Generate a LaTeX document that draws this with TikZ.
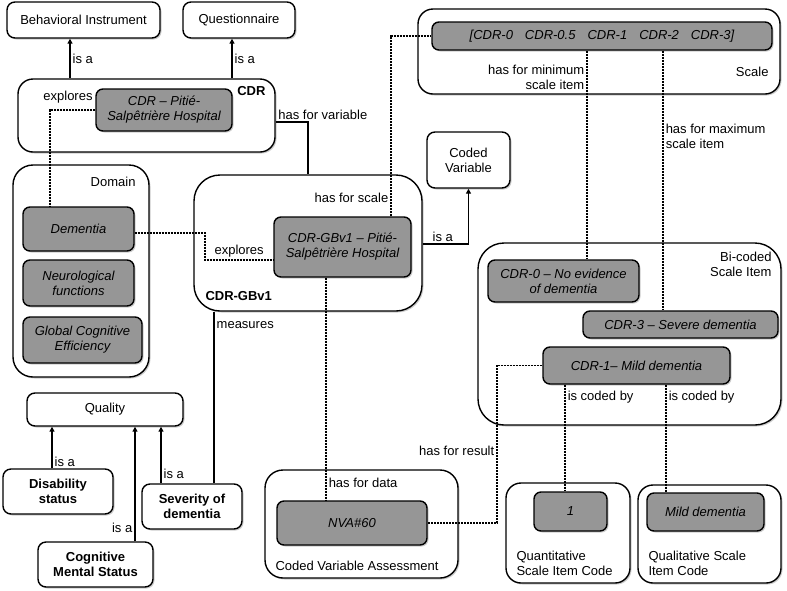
\documentclass[tikz,border=0pt]{standalone}
\usepackage{fontspec}
\setmainfont{Liberation Sans}
\usetikzlibrary{arrows.meta,shadows}
\definecolor{itemgray}{RGB}{150,150,150}
\newcommand\labelsize{\fontsize{13}{15}\selectfont}

\begin{document}
\begin{tikzpicture}[
    x=1pt, y=-1pt,
    font=\labelsize,
    boxshadow/.style={drop shadow={shadow xshift=1.5pt, shadow yshift=-1.5pt, opacity=0.4}},
    classbox/.style={rectangle, draw, line width=1.4pt, rounded corners=8pt, fill=white, align=center, inner sep=0pt, boxshadow},
    container/.style={classbox, rounded corners=18pt},
    instance/.style={classbox, rounded corners=7pt, fill=itemgray, font=\labelsize\itshape},
    tag/.style={inner sep=2pt, align=left},
    isa/.style={-{Triangle[length=5pt, width=5pt]}, line width=1.4pt},
    rel/.style={line width=1.4pt},
    dotref/.style={line width=1.5pt, dash pattern=on 2pt off 1pt}
]
\useasboundingbox (0,0) rectangle (787,590);

% Generic classes
\node[classbox, minimum width=153pt, minimum height=36pt] (behav) at (83.5,20) {Behavioral Instrument};
\node[classbox, minimum width=112pt, minimum height=36pt] (quest) at (239,20) {Questionnaire};
\node[classbox, minimum width=83pt, minimum height=56pt] (codedvar) at (468.5,160) {Coded\\Variable};
\node[classbox, minimum width=156pt, minimum height=33pt] (quality) at (105,409.5) {Quality};
\node[classbox, minimum width=110pt, minimum height=45pt, font=\labelsize\bfseries] (disab) at (58,491.5) {Disability\\status};
\node[classbox, minimum width=100pt, minimum height=45pt, font=\labelsize\bfseries] (severity) at (192,506.5) {Severity of\\dementia};
\node[classbox, minimum width=115pt, minimum height=45pt, font=\labelsize\bfseries] (cogn) at (95.5,564.5) {Cognitive\\Mental Status};

% Containers
\node[container, rounded corners=15pt, minimum width=257pt, minimum height=73pt] (cdr) at (146.5,115.5) {};
\node[container, rounded corners=20pt, minimum width=136pt, minimum height=212pt] (domain) at (81,271) {};
\node[container, rounded corners=26pt, minimum width=228pt, minimum height=136pt] (gbv) at (308,243) {};
\node[container, rounded corners=15pt, minimum width=362pt, minimum height=85pt] (scale) at (599,51.5) {};
\node[container, rounded corners=26pt, minimum width=303pt, minimum height=182pt] (bicoded) at (629.5,334) {};
\node[container, minimum width=193pt, minimum height=108pt] (cva) at (361.5,524) {};
\node[container, rounded corners=15pt, minimum width=124pt, minimum height=100pt] (quant) at (568,533) {};
\node[container, rounded corners=15pt, minimum width=143pt, minimum height=98pt] (qual) at (709.5,534) {};

% Container titles
\node[tag, anchor=north east, font=\labelsize\bfseries] (cdrtag) at ([xshift=-8pt, yshift=-6pt]cdr.north east) {CDR};
\node[tag, anchor=north east] (domaintag) at ([xshift=-12pt, yshift=-11pt]domain.north east) {Domain};
\node[tag, anchor=south west, font=\labelsize\bfseries] (gbvtag) at ([xshift=10pt, yshift=9pt]gbv.south west) {CDR-GBv1};
\node[tag, anchor=east] (scaletag) at ([xshift=-10pt, yshift=-20pt]scale.east) {Scale};
\node[tag, anchor=north east, align=right] (bicodedtag) at ([xshift=-8pt, yshift=-8pt]bicoded.north east) {Bi-coded\\Scale Item};
\node[tag, anchor=south west] (cvatag) at ([xshift=9pt, yshift=6pt]cva.south west) {Coded Variable Assessment};
\node[tag, anchor=south west] (quanttag) at ([xshift=9pt, yshift=6pt]quant.south west) {Quantitative\\Scale Item Code};
\node[tag, anchor=south west] (qualtag) at ([xshift=9pt, yshift=6pt]qual.south west) {Qualitative Scale\\Item Code};

% Instances
\node[instance, minimum width=136pt, minimum height=42pt] (cdritem) at (164,110) {CDR -- Pitié-\\Salpêtrière Hospital};
\node[instance, minimum width=111pt, minimum height=44pt] (dementia) at (78.5,229) {Dementia};
\node[instance, minimum width=111pt, minimum height=46pt] (neuro) at (78.5,283) {Neurological\\functions};
\node[instance, minimum width=119pt, minimum height=46pt] (gce) at (82.5,340) {Global Cognitive\\Efficiency};
\node[instance, minimum width=137pt, minimum height=60pt] (gbvitem) at (342.5,247) {CDR-GBv1 -- Pitié-\\Salpêtrière Hospital};
\node[instance, minimum width=340pt, minimum height=28pt] (scaleitem) at (602,36)
    {[CDR-0\hspace{12pt}CDR-0.5\hspace{12pt}CDR-1\hspace{12pt}CDR-2\hspace{12pt}CDR-3]};
\node[instance, minimum width=151pt, minimum height=42pt] (cdr0) at (563.5,281) {CDR-0 -- No evidence\\of dementia};
\node[instance, minimum width=195pt, minimum height=27pt] (cdr3) at (680.5,324.5) {CDR-3 -- Severe dementia};
\node[instance, minimum width=187pt, minimum height=37pt] (cdr1) at (636.5,365.5) {CDR-1-- Mild dementia};
\node[instance, minimum width=150pt, minimum height=44pt] (nva) at (352,523) {NVA\#60};
\node[instance, minimum width=73pt, minimum height=39pt] (one) at (570.5,511.5) {1};
\node[instance, minimum width=117pt, minimum height=38pt] (mild) at (705.5,512) {Mild dementia};

% is-a links (solid, arrow)
\draw[isa] (70,0 |- cdr.north) -- node[tag, right] {is a} (70,0 |- behav.south);
\draw[isa] (232,0 |- cdr.north) -- node[tag, right] {is a} (232,0 |- quest.south);
\draw[isa] (gbv.east |- 0,244) -| node[tag, pos=0.22, above] {is a} (codedvar.south);
\draw[isa] (52,0 |- disab.north) -- node[tag, pos=0.15, right] {is a} (52,0 |- quality.south);
\draw[isa] (161,0 |- severity.north) -- node[tag, pos=0.17, right] {is a} (161,0 |- quality.south);
\draw[isa] (135,0 |- cogn.north) -- node[tag, pos=0.12, left] {is a} (135,0 |- quality.south);

% Class relations (solid)
\draw[rel] (cdr.east |- 0,122) -| node[tag, pos=0, above right] {has for variable} (308,0 |- gbv.north);
\draw[rel] (214,0 |- gbv.south) -- node[tag, pos=0.08, right] {measures} (214,0 |- severity.north);

% Instance relations (dashed)
\draw[dotref] (cdritem.west) -| node[tag, pos=0, above left, yshift=4pt] {explores} (50,0 |- dementia.north);
\draw[dotref] (dementia.east |- 0,233) -| (205,260) -- node[tag, midway, above] {explores} (gbvitem.west |- 0,260);
\draw[dotref] (391,0 |- gbvitem.north) |- node[tag, pos=0.05, left] {has for scale} (scaleitem.west);
\draw[dotref] (326,0 |- gbvitem.south) -- node[tag, pos=0.92, right] {has for data} (326,0 |- nva.north);
\draw[dotref] (587,0 |- scaleitem.south) -- node[tag, pos=0.13, left, align=right] {has for minimum\\scale item} (587,0 |- cdr0.north);
\draw[dotref] (663,0 |- scaleitem.south) -- node[tag, pos=0.33, right] {has for maximum\\scale item} (663,0 |- cdr3.north);
\draw[dotref] (cdr1.west) -| node[tag, pos=0.77, left] {has for result} (497,0 |- nva.east) -- (nva.east);
\draw[dotref] (565,0 |- cdr1.south) -- node[tag, pos=0.12, right] {is coded by} (565,0 |- one.north);
\draw[dotref] (666,0 |- cdr1.south) -- node[tag, pos=0.12, right] {is coded by} (666,0 |- mild.north);

\end{tikzpicture}
\end{document}
